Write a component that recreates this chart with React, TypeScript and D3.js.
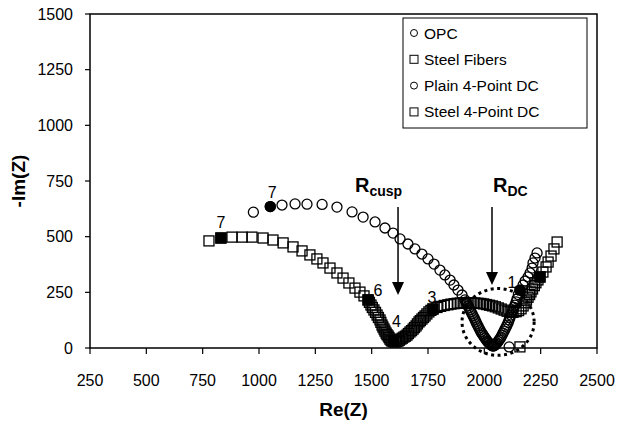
import React from "react";
import * as d3 from "d3";

// Nyquist data: [Re(Z), -Im(Z)]
const opcPoints: [number, number][] = [
  [975, 610], [1050, 635], [1102, 642], [1160, 647], [1213, 646], [1280, 645],
  [1346, 633], [1413, 611], [1462, 588], [1515, 566], [1559, 539], [1595, 516],
  [1626, 490], [1661, 467], [1692, 445], [1723, 422], [1750, 400], [1777, 377],
  [1803, 350], [1825, 328], [1848, 305], [1865, 283], [1883, 260], [1901, 238],
  [1914, 216], [1919, 207], [1923, 198], [1928, 189], [1932, 180], [1937, 171],
  [1941, 162], [1946, 153], [1950, 144], [1955, 135], [1959, 126], [1963, 117],
  [1967, 108], [1972, 99], [1976, 90], [1981, 81], [1985, 72], [1990, 65],
  [1994, 58], [1999, 51], [2003, 45], [2008, 38], [2012, 31], [2017, 26],
  [2021, 22], [2026, 17], [2030, 13], [2035, 10], [2039, 9], [2043, 10],
  [2047, 13], [2052, 17], [2056, 22], [2061, 29], [2065, 36], [2070, 42],
  [2074, 49], [2079, 58], [2083, 67], [2088, 76], [2092, 85], [2097, 94],
  [2101, 103], [2106, 115], [2110, 126], [2114, 137], [2118, 148], [2123, 160],
  [2127, 171], [2132, 182], [2136, 193], [2141, 207], [2145, 220], [2151, 240],
  [2158, 260], [2172, 283], [2181, 301], [2194, 319], [2203, 337], [2212, 359],
  [2216, 382], [2225, 404], [2234, 427],
];

const steelPoints: [number, number][] = [
  [778, 481], [831, 494], [880, 498], [925, 498], [969, 498], [1018, 494],
  [1062, 485], [1107, 472], [1151, 454], [1191, 436], [1226, 418], [1257, 400],
  [1284, 382], [1315, 359], [1346, 337], [1373, 314], [1399, 292], [1426, 269],
  [1448, 251], [1466, 234], [1484, 216], [1490, 205], [1497, 193], [1503, 182],
  [1510, 171], [1517, 160], [1524, 148], [1530, 137], [1537, 126], [1541, 115],
  [1546, 103], [1550, 94], [1555, 85], [1559, 76], [1564, 67], [1568, 60],
  [1573, 54], [1577, 47], [1581, 40], [1586, 35], [1590, 31], [1597, 29],
  [1604, 27], [1610, 29], [1617, 31], [1623, 35], [1630, 40], [1636, 44],
  [1643, 49], [1650, 53], [1657, 58], [1663, 65], [1670, 72], [1677, 78],
  [1684, 85], [1690, 92], [1697, 99], [1703, 108], [1710, 117], [1716, 123],
  [1723, 130], [1730, 137], [1737, 144], [1745, 153], [1754, 162], [1763, 169],
  [1772, 175], [1790, 182], [1806, 187], [1822, 191], [1838, 194], [1852, 197],
  [1866, 199], [1880, 201], [1893, 202], [1906, 203], [1919, 203], [1932, 203],
  [1945, 202], [1958, 202], [1971, 201], [1984, 200], [1997, 198], [2010, 195],
  [2023, 192], [2036, 189], [2049, 185], [2062, 180], [2075, 175], [2088, 170],
  [2101, 165], [2114, 162], [2127, 160], [2141, 163], [2152, 168], [2163, 176],
  [2172, 189], [2180, 203], [2187, 215], [2194, 228], [2201, 240], [2207, 252],
  [2214, 265], [2222, 280], [2229, 293], [2238, 306], [2247, 319], [2260, 341],
  [2274, 364], [2283, 386], [2296, 413], [2309, 445], [2323, 476],
];

// single DC measurements
const plainDcPoints: [number, number][] = [[2110, 5]];
const steelDcPoints: [number, number][] = [[2158, 5]];

// filled frequency markers with their labels
const opcFreq = [
  { x: 1050, y: 635, label: "7" },
  { x: 2158, y: 260, label: "1" },
];
const steelFreq = [
  { x: 831, y: 494, label: "7" },
  { x: 1484, y: 216, label: "6" },
  { x: 1597, y: 29, label: "4" },
  { x: 1772, y: 175, label: "3" },
  { x: 2247, y: 319, label: "" },
];

const xTicks = [250, 500, 750, 1000, 1250, 1500, 1750, 2000, 2250, 2500];
const yTicks = [0, 250, 500, 750, 1000, 1250, 1500];
const legendNames = ["OPC", "Steel Fibers", "Plain 4-Point DC", "Steel 4-Point DC"];

// resistance arrows: x position, from / to -Im(Z)
const rCusp = { x: 1617, from: 633, to: 238 };
const rDc = { x: 2034, from: 633, to: 283 };
const dcRing = { cx: 2061, cy: 117, rx: 160, ry: 150 };

const W = 617;
const H = 423;
const left = 90;
const right = 597;
const top = 14;
const bottom = 348;
const font = "Arial, 'Liberation Sans', Helvetica, sans-serif";
const markStroke = 1.3;

// label offsets (px) relative to the filled markers
const labelOffset: Record<string, [number, number]> = {
  "opc-7": [2, -15],
  "opc-1": [-8, -8],
  "steel-7": [0, -16],
  "steel-6": [10, -10],
  "steel-4": [3, -21],
  "steel-3": [-1, -12],
};

const Circle = ({ cx, cy, r, fill }: { cx: number; cy: number; r: number; fill: string }) => (
  <circle cx={cx} cy={cy} r={r} fill={fill} stroke="#000" strokeWidth={markStroke} />
);
const Square = ({ cx, cy, s, fill }: { cx: number; cy: number; s: number; fill: string }) => (
  <rect x={cx - s / 2} y={cy - s / 2} width={s} height={s} fill={fill} stroke="#000" strokeWidth={markStroke} />
);

const Arrow = ({ x, y1, y2 }: { x: number; y1: number; y2: number }) => (
  <g>
    <line x1={x} x2={x} y1={y1} y2={y2 - 12} stroke="#000" strokeWidth={1.5} />
    <path d={`M${x - 6},${y2 - 13} L${x + 6},${y2 - 13} L${x},${y2} Z`} fill="#000" />
  </g>
);

const App = () => {
  const x = d3.scaleLinear().domain([250, 2500]).range([left, right]);
  const y = d3.scaleLinear().domain([0, 1500]).range([bottom, top]);

  return (
    <svg
      width={W}
      height={H}
      style={{ position: "absolute", left: 0, top: 0, background: "#fff" }}
      fontFamily={font}
    >
      <rect width={W} height={H} fill="#fff" />
      {/* plot frame */}
      <rect x={left} y={top} width={right - left} height={bottom - top} fill="none" stroke="#000" strokeWidth={1.5} />

      {/* y axis */}
      {yTicks.map((t) => (
        <g key={"y" + t}>
          <line x1={left - 5} x2={left} y1={y(t)} y2={y(t)} stroke="#000" strokeWidth={1.2} />
          <text x={left - 17} y={y(t) + 5.5} fontSize={16} textAnchor="end" fill="#000">
            {t}
          </text>
        </g>
      ))}
      {/* x axis */}
      {xTicks.map((t) => (
        <g key={"x" + t}>
          <line x1={x(t)} x2={x(t)} y1={bottom} y2={bottom + 6} stroke="#000" strokeWidth={1.2} />
          <text x={x(t)} y={bottom + 38} fontSize={16} textAnchor="middle" fill="#000">
            {t}
          </text>
        </g>
      ))}
      <text x={(left + right) / 2} y={416} fontSize={19} fontWeight="bold" textAnchor="middle" fill="#000">
        Re(Z)
      </text>
      <text
        transform={`translate(25,${(top + bottom) / 2}) rotate(-90)`}
        fontSize={19}
        fontWeight="bold"
        textAnchor="middle"
        fill="#000"
      >
        -Im(Z)
      </text>

      {/* series */}
      {opcPoints.map(([a, b], i) => (
        <Circle key={"o" + i} cx={x(a)} cy={y(b)} r={5} fill="none" />
      ))}
      {steelPoints.map(([a, b], i) => (
        <Square key={"s" + i} cx={x(a)} cy={y(b)} s={10} fill="none" />
      ))}
      {plainDcPoints.map(([a, b], i) => (
        <Circle key={"p" + i} cx={x(a)} cy={y(b)} r={5} fill="none" />
      ))}
      {steelDcPoints.map(([a, b], i) => (
        <Square key={"d" + i} cx={x(a)} cy={y(b)} s={10} fill="none" />
      ))}

      {/* frequency markers */}
      {opcFreq.map((d) => (
        <g key={"of" + d.label}>
          <Circle cx={x(d.x)} cy={y(d.y)} r={5} fill="#000" />
          {d.label && (
            <text
              x={x(d.x) + labelOffset["opc-" + d.label][0]}
              y={y(d.y) + labelOffset["opc-" + d.label][1] + 6}
              fontSize={16}
              textAnchor="middle"
              fill="#000"
            >
              {d.label}
            </text>
          )}
        </g>
      ))}
      {steelFreq.map((d, i) => (
        <g key={"sf" + i}>
          <Square cx={x(d.x)} cy={y(d.y)} s={10} fill="#000" />
          {d.label && (
            <text
              x={x(d.x) + labelOffset["steel-" + d.label][0]}
              y={y(d.y) + labelOffset["steel-" + d.label][1] + 6}
              fontSize={16}
              textAnchor="middle"
              fill="#000"
            >
              {d.label}
            </text>
          )}
        </g>
      ))}

      {/* DC ring */}
      <ellipse
        cx={x(dcRing.cx)}
        cy={y(dcRing.cy)}
        rx={x(dcRing.cx + dcRing.rx) - x(dcRing.cx)}
        ry={y(0) - y(dcRing.ry)}
        fill="none"
        stroke="#000"
        strokeWidth={3}
        strokeDasharray="3 3.5"
      />

      {/* arrows */}
      <Arrow x={x(rCusp.x)} y1={y(rCusp.from)} y2={y(rCusp.to)} />
      <Arrow x={x(rDc.x)} y1={y(rDc.from)} y2={y(rDc.to)} />
      <text x={x(rCusp.x) - 43} y={y(rCusp.from) - 15} fontWeight="bold" fontSize={20} fill="#000">
        R<tspan fontSize={14} dy={4}>cusp</tspan>
      </text>
      <text x={x(rDc.x) + 1} y={y(rDc.from) - 15} fontWeight="bold" fontSize={20} fill="#000">
        R<tspan fontSize={14} dy={4}>DC</tspan>
      </text>

      {/* legend */}
      <rect x={403} y={18} width={184} height={110} fill="#fff" stroke="#000" strokeWidth={1} />
      {legendNames.map((n, i) => {
        const cy = 33 + i * 26.3;
        return (
          <g key={n}>
            {i % 2 === 0 ? (
              <circle cx={414} cy={cy} r={3.5} fill="none" stroke="#000" strokeWidth={1} />
            ) : (
              <rect x={410} y={cy - 4} width={8} height={8} fill="none" stroke="#000" strokeWidth={1} />
            )}
            <text x={424} y={cy + 5.5} fontSize={15.5} fill="#000">
              {n}
            </text>
          </g>
        );
      })}
    </svg>
  );
};

export default App;
